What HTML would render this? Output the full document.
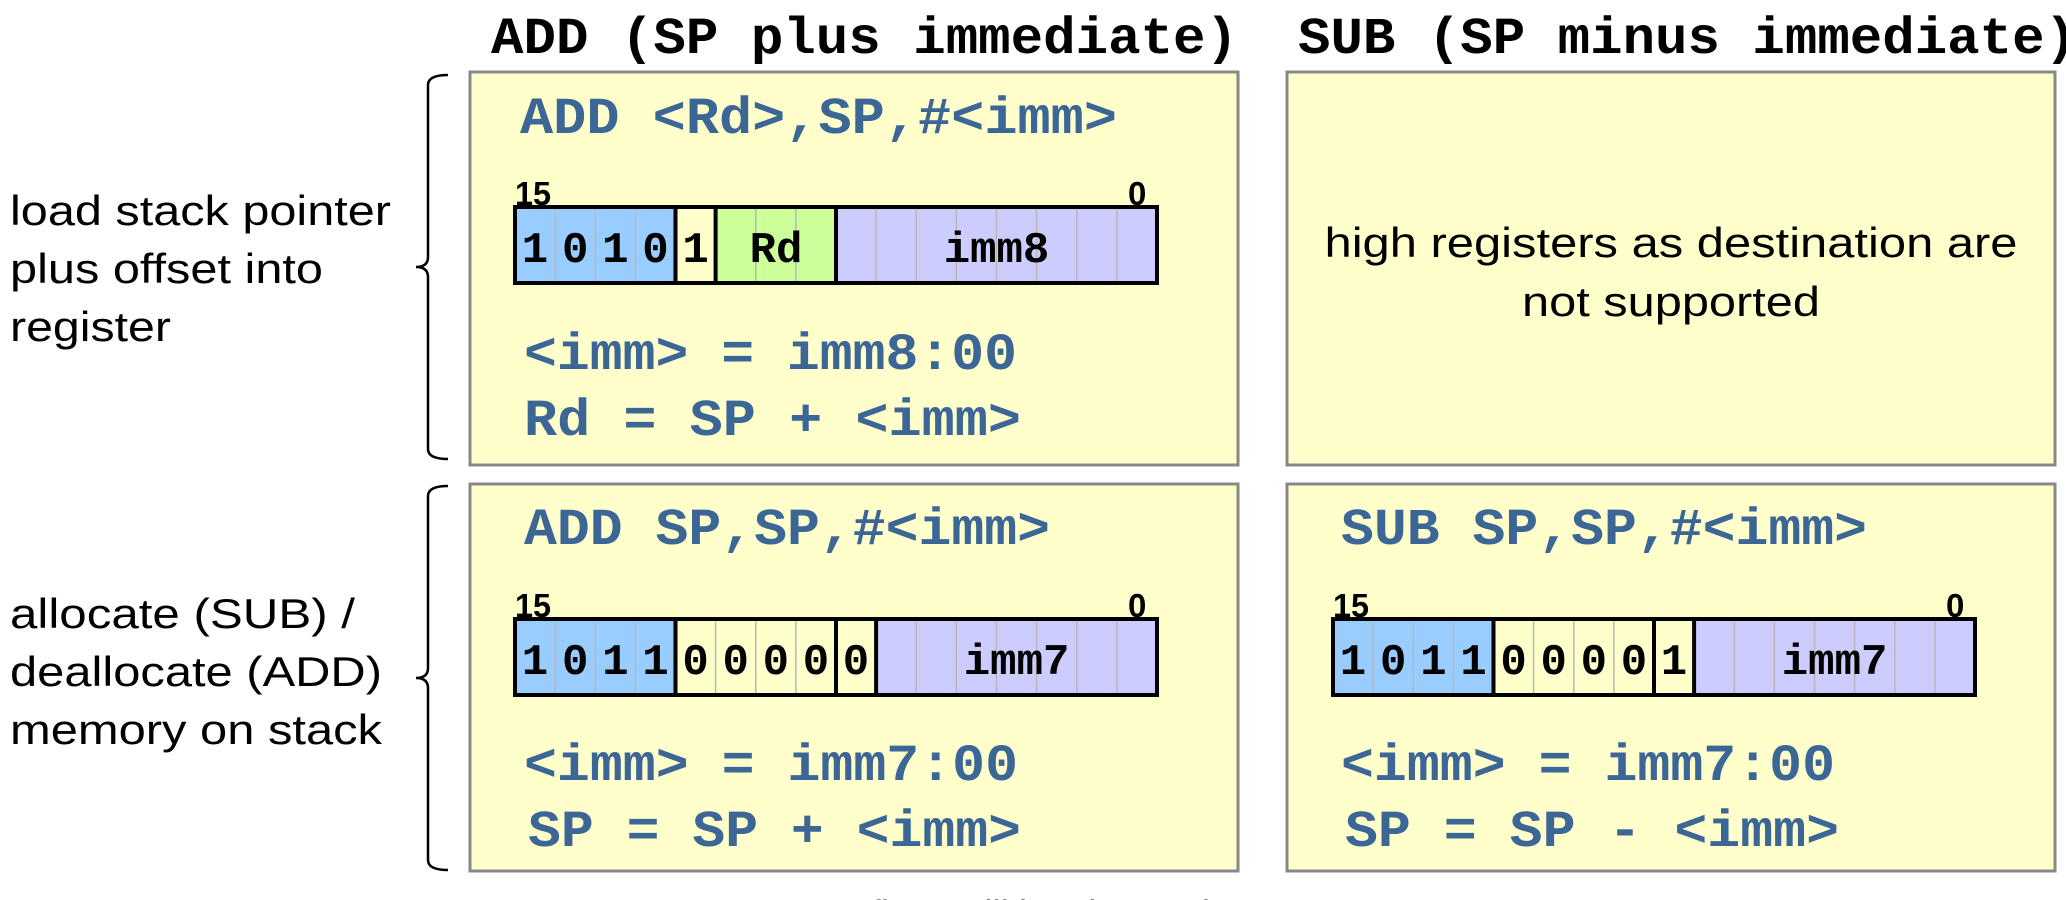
<!DOCTYPE html>
<html><head><meta charset="utf-8"><style>
html,body{margin:0;padding:0;background:#fff;width:2066px;height:900px;overflow:hidden}
svg{display:block}
.mono{font-family:"Liberation Mono",monospace;font-weight:bold}
.code{font-family:"Liberation Mono",monospace;font-weight:bold;fill:#3b6695;font-size:52px}
.sans{font-family:"Liberation Sans",sans-serif;font-size:42px;fill:#000}
.bit{font-family:"Liberation Mono",monospace;font-weight:bold;font-size:44px;fill:#000}
.num{font-family:"Liberation Sans",sans-serif;font-weight:bold;font-size:33px;fill:#000}
</style></head><body>
<svg width="2066" height="900" viewBox="0 0 2066 900" xmlns="http://www.w3.org/2000/svg">
<defs>
<g id="div" stroke="#b8b8b8" stroke-width="1.5">
<path d="M40.1 0V76M80.3 0V76M120.4 0V76M160.5 0V76M200.6 0V76M240.8 0V76M280.9 0V76M321 0V76M361.1 0V76M401.3 0V76M441.4 0V76M481.5 0V76M521.6 0V76M561.8 0V76M601.9 0V76"/>
</g>
</defs>

<!-- titles -->
<text class="mono" x="491" y="53" font-size="52" textLength="747" lengthAdjust="spacingAndGlyphs">ADD (SP plus immediate)</text>
<text class="mono" x="1298" y="53" font-size="52" textLength="779" lengthAdjust="spacingAndGlyphs">SUB (SP minus immediate)</text>

<!-- boxes -->
<g fill="#ffffcc" stroke="#888" stroke-width="3">
<rect x="470" y="72" width="768" height="393"/>
<rect x="1287" y="72" width="768" height="393"/>
<rect x="470" y="484" width="768" height="387"/>
<rect x="1287" y="484" width="768" height="387"/>
</g>

<!-- braces -->
<g fill="none" stroke="#000" stroke-width="2.5">
<path d="M448 75 Q428 75 428 85 V257 Q428 267 416 267 Q428 267 428 277 V449 Q428 459 448 459"/>
<path d="M448 486 Q428 486 428 496 V668 Q428 678 416 678 Q428 678 428 688 V860 Q428 870 448 870"/>
</g>

<!-- left labels -->
<text class="sans" x="10" y="225" textLength="381" lengthAdjust="spacingAndGlyphs">load stack pointer</text>
<text class="sans" x="10" y="283" textLength="313" lengthAdjust="spacingAndGlyphs">plus offset into</text>
<text class="sans" x="10" y="341" textLength="161" lengthAdjust="spacingAndGlyphs">register</text>
<text class="sans" x="10" y="628" textLength="345" lengthAdjust="spacingAndGlyphs">allocate (SUB) /</text>
<text class="sans" x="10" y="686" textLength="372" lengthAdjust="spacingAndGlyphs">deallocate (ADD)</text>
<text class="sans" x="10" y="744" textLength="372" lengthAdjust="spacingAndGlyphs">memory on stack</text>

<!-- box1 -->
<text class="code" x="520" y="133" textLength="597" lengthAdjust="spacingAndGlyphs">ADD &lt;Rd&gt;,SP,#&lt;imm&gt;</text>
<text class="num" x="515" y="205" textLength="36" lengthAdjust="spacingAndGlyphs">15</text>
<text class="num" x="1128" y="205">0</text>
<g transform="translate(515,207)">
<rect x="0" y="0" width="160.5" height="76" fill="#99ccff"/>
<rect x="160.5" y="0" width="40.1" height="76" fill="#ffffcc"/>
<rect x="200.6" y="0" width="120.4" height="76" fill="#ccff99"/>
<rect x="321" y="0" width="321" height="76" fill="#ccccff"/>
<use href="#div"/>
<g stroke="#000" stroke-width="4"><path d="M160.5 0V76M200.6 0V76M321 0V76"/></g>
<rect x="0" y="0" width="642" height="76" fill="none" stroke="#000" stroke-width="4"/>
<g class="bit" text-anchor="middle">
<text x="20" y="55">1</text><text x="60.2" y="55">0</text><text x="100.3" y="55">1</text><text x="140.4" y="55">0</text><text x="180.6" y="55">1</text>
<text x="261" y="55">Rd</text><text x="481.5" y="55">imm8</text></g>
</g>
<text class="code" x="524" y="369" textLength="493" lengthAdjust="spacingAndGlyphs">&lt;imm&gt; = imm8:00</text>
<text class="code" x="524" y="435" textLength="497" lengthAdjust="spacingAndGlyphs">Rd = SP + &lt;imm&gt;</text>

<!-- box2 -->
<text class="sans" x="1671" y="257" text-anchor="middle" textLength="693" lengthAdjust="spacingAndGlyphs">high registers as destination are</text>
<text class="sans" x="1671" y="316" text-anchor="middle" textLength="298" lengthAdjust="spacingAndGlyphs">not supported</text>

<!-- box3 -->
<text class="code" x="524" y="544" textLength="526" lengthAdjust="spacingAndGlyphs">ADD SP,SP,#&lt;imm&gt;</text>
<text class="num" x="515" y="617" textLength="36" lengthAdjust="spacingAndGlyphs">15</text>
<text class="num" x="1128" y="617">0</text>
<g transform="translate(515,619)">
<rect x="0" y="0" width="160.5" height="76" fill="#99ccff"/>
<rect x="160.5" y="0" width="200.6" height="76" fill="#ffffcc"/>
<rect x="361.1" y="0" width="280.9" height="76" fill="#ccccff"/>
<use href="#div"/>
<g stroke="#000" stroke-width="4"><path d="M160.5 0V76M321 0V76M361.1 0V76"/></g>
<rect x="0" y="0" width="642" height="76" fill="none" stroke="#000" stroke-width="4"/>
<g class="bit" text-anchor="middle">
<text x="20" y="55">1</text><text x="60.2" y="55">0</text><text x="100.3" y="55">1</text><text x="140.4" y="55">1</text>
<text x="180.6" y="55">0</text><text x="220.7" y="55">0</text><text x="260.8" y="55">0</text><text x="300.9" y="55">0</text><text x="341" y="55">0</text>
<text x="501.6" y="55">imm7</text></g>
</g>
<text class="code" x="524" y="780" textLength="494" lengthAdjust="spacingAndGlyphs">&lt;imm&gt; = imm7:00</text>
<text class="code" x="528" y="846" textLength="493" lengthAdjust="spacingAndGlyphs">SP = SP + &lt;imm&gt;</text>

<!-- box4 -->
<text class="code" x="1341" y="544" textLength="526" lengthAdjust="spacingAndGlyphs">SUB SP,SP,#&lt;imm&gt;</text>
<text class="num" x="1333" y="617" textLength="36" lengthAdjust="spacingAndGlyphs">15</text>
<text class="num" x="1946" y="617">0</text>
<g transform="translate(1333,619)">
<rect x="0" y="0" width="160.5" height="76" fill="#99ccff"/>
<rect x="160.5" y="0" width="200.6" height="76" fill="#ffffcc"/>
<rect x="361.1" y="0" width="280.9" height="76" fill="#ccccff"/>
<use href="#div"/>
<g stroke="#000" stroke-width="4"><path d="M160.5 0V76M321 0V76M361.1 0V76"/></g>
<rect x="0" y="0" width="642" height="76" fill="none" stroke="#000" stroke-width="4"/>
<g class="bit" text-anchor="middle">
<text x="20" y="55">1</text><text x="60.2" y="55">0</text><text x="100.3" y="55">1</text><text x="140.4" y="55">1</text>
<text x="180.6" y="55">0</text><text x="220.7" y="55">0</text><text x="260.8" y="55">0</text><text x="300.9" y="55">0</text><text x="341" y="55">1</text>
<text x="501.6" y="55">imm7</text></g>
</g>
<text class="code" x="1341" y="780" textLength="494" lengthAdjust="spacingAndGlyphs">&lt;imm&gt; = imm7:00</text>
<text class="code" x="1345" y="846" textLength="494" lengthAdjust="spacingAndGlyphs">SP = SP - &lt;imm&gt;</text>

<!-- footer (cut off) -->
<text class="sans" x="1015" y="930" text-anchor="middle" textLength="390" lengthAdjust="spacingAndGlyphs">no flags will be changed</text>
</svg>
</body></html>
